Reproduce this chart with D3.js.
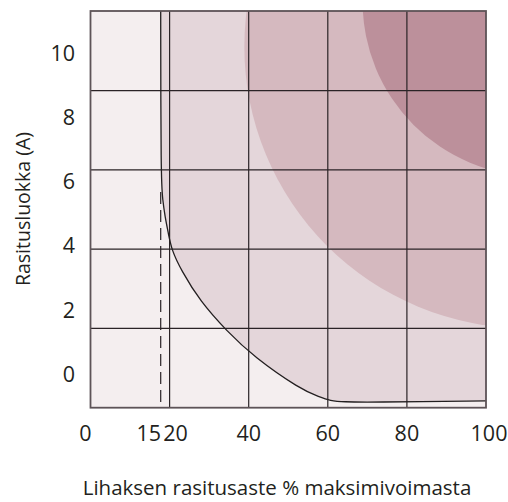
<!DOCTYPE html>
<html>
<head>
<meta charset="utf-8">
<script src="https://cdn.jsdelivr.net/npm/d3@7"></script>
<style>
body { margin: 0; background: #fff; }
text { font-family: "Open Sans", sans-serif; fill: #231f20; }
</style>
</head>
<body>
<div id="main"></div>
<script>
// x ticks and y labels
var xTicks = [0, 15, 20, 40, 60, 80, 100];
var yTicks = [0, 2, 4, 6, 8, 10];
var xGrid = [20, 40, 60, 80];
var yGrid = [1.42, 3.89, 6.36, 8.83];
var dashX = 17.75;
var dashTop = 5.67;

// threshold curve
var curveX = [17.75, 17.8, 18.26, 18.84, 19.67, 20.53, 22.9, 27.69, 34.44, 41.34, 53.0, 58.0, 60.55, 64.1, 70.0, 100];
var curveY = [11.31, 6.04, 5.42, 4.9, 4.39, 3.86, 3.24, 2.27, 1.34, 0.53, -0.47, -0.72, -0.83, -0.87, -0.88, -0.84];

// shaded zones (ellipses in data units)
var zoneCx = [110.1, 112.8];
var zoneCy = [10.2, 11.6];
var zoneRx = [71.2, 44.0];
var zoneRy = [8.77, 5.43];
var zoneColors = ["#d5b9bf", "#bc909b"];

var svg = d3.select("#main").append("svg")
	.attr("width", 508)
	.attr("height", 502);

var x = d3.scaleLinear().domain([0, 100]).range([90.5, 486]);
var y = d3.scaleLinear().domain([-1.05, 11.31]).range([407.7, 11]);

svg.append("clipPath").attr("id", "plotclip")
	.append("rect")
	.attr("x", x(0)).attr("y", y(11.31))
	.attr("width", x(100) - x(0))
	.attr("height", y(-1.05) - y(11.31));

// background
svg.append("rect")
	.attr("x", x(0)).attr("y", y(11.31))
	.attr("width", x(100) - x(0))
	.attr("height", y(-1.05) - y(11.31))
	.attr("fill", "#f4eeef");

var pts = curveX.map(function(d, i) { return [d, curveY[i]]; });
var line = d3.line().curve(d3.curveBasis)
	.x(function(d) { return x(d[0]); })
	.y(function(d) { return y(d[1]); });

// first zone: right of / above the curve
svg.append("path")
	.attr("d", line(pts) + "L" + x(100) + "," + y(11.31) + "Z")
	.attr("fill", "#e4d6da");

var g = svg.append("g").attr("clip-path", "url(#plotclip)");
zoneCx.forEach(function(c, i) {
	g.append("ellipse")
		.attr("cx", x(c))
		.attr("cy", y(zoneCy[i]))
		.attr("rx", x(c + zoneRx[i]) - x(c))
		.attr("ry", y(zoneCy[i] - zoneRy[i]) - y(zoneCy[i]))
		.attr("fill", zoneColors[i]);
});

// grid
svg.selectAll(".vg").data(xGrid).enter().append("line")
	.attr("x1", function(d) { return x(d); }).attr("x2", function(d) { return x(d); })
	.attr("y1", y(11.31)).attr("y2", y(-1.05))
	.attr("stroke", "#2a2326").attr("stroke-width", 1.2);
svg.selectAll(".hg").data(yGrid).enter().append("line")
	.attr("x1", x(0)).attr("x2", x(100))
	.attr("y1", function(d) { return y(d); }).attr("y2", function(d) { return y(d); })
	.attr("stroke", "#2a2326").attr("stroke-width", 1.2);

// dashed line
svg.append("line")
	.attr("x1", x(dashX)).attr("x2", x(dashX))
	.attr("y1", y(dashTop)).attr("y2", y(-1.05))
	.attr("stroke", "#2a2326").attr("stroke-width", 1.2)
	.attr("stroke-dasharray", "12,6");

// curve
svg.append("path")
	.attr("d", line(pts))
	.attr("fill", "none")
	.attr("stroke", "#231f20")
	.attr("stroke-width", 1.3);

// frame
svg.append("rect")
	.attr("x", x(0)).attr("y", y(11.31))
	.attr("width", x(100) - x(0))
	.attr("height", y(-1.05) - y(11.31))
	.attr("fill", "none")
	.attr("stroke", "#5d5357")
	.attr("stroke-width", 1.8);

// tick labels
svg.selectAll(".xt").data(xTicks).enter().append("text")
	.attr("x", function(d) { return x(d) + (d == 15 ? -1 : d == 20 ? 6 : d == 0 ? -5 : d == 100 ? 3 : 0); })
	.attr("y", 441)
	.attr("text-anchor", "middle")
	.style("font-size", "21.5px")
	.text(function(d) { return d; });

svg.selectAll(".yt").data(yTicks).enter().append("text")
	.attr("x", 75)
	.attr("y", function(d) { return y(d) + 7.8; })
	.attr("text-anchor", "end")
	.style("font-size", "21.5px")
	.text(function(d) { return d; });

// axis titles
svg.append("text")
	.attr("x", 277).attr("y", 495)
	.attr("text-anchor", "middle")
	.style("font-size", "20.5px")
	.text("Lihaksen rasitusaste % maksimivoimasta");

svg.append("text")
	.attr("transform", "translate(30,209) rotate(-90)")
	.attr("text-anchor", "middle")
	.style("font-size", "19.5px")
	.text("Rasitusluokka (A)");
</script>
</body>
</html>
